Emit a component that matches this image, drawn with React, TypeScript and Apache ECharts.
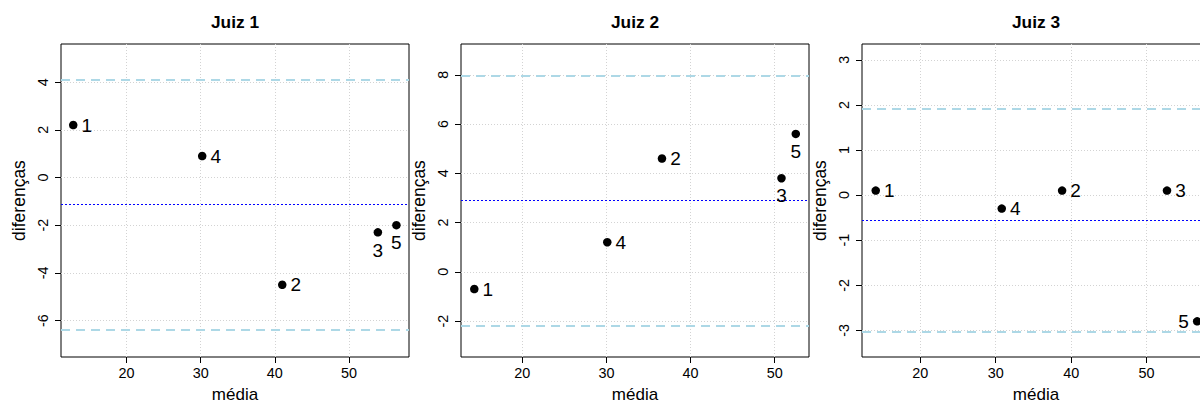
import React, { useEffect, useRef } from 'react';
import * as echarts from 'echarts';

const pointIds = ['1', '2', '3', '4', '5'];

const juiz1Media = [12.8, 41.0, 53.9, 30.2, 56.4];
const juiz1Dif = [2.2, -4.5, -2.3, 0.9, -2.0];
const juiz1LabelPos = ['right', 'right', 'bottom', 'right', 'bottom'];

const juiz2Media = [14.3, 36.6, 50.8, 30.1, 52.5];
const juiz2Dif = [-0.7, 4.6, 3.8, 1.2, 5.6];
const juiz2LabelPos = ['right', 'right', 'bottom', 'right', 'bottom'];

const juiz3Media = [14.1, 38.8, 52.7, 30.8, 56.7];
const juiz3Dif = [0.1, 0.1, 0.1, -0.3, -2.8];
const juiz3LabelPos = ['right', 'right', 'right', 'right', 'left'];

const panelTitles = ['Juiz 1', 'Juiz 2', 'Juiz 3'];
const xTicks = [20, 30, 40, 50];
const yTicks1 = [-6, -4, -2, 0, 2, 4];
const yTicks2 = [-2, 0, 2, 4, 6, 8];
const yTicks3 = [-3, -2, -1, 0, 1, 2, 3];
const xRange1 = [11.15, 58.1];
const xRange2 = [12.72, 54.07];
const xRange3 = [12.28, 58.4];
const yRange1 = [-7.53, 5.6];
const yRange2 = [-3.46, 9.25];
const yRange3 = [-3.59, 3.35];

const xLabel = 'média';
const yLabel = 'diferenças';

const FONT = '"Liberation Sans", Arial, Helvetica, sans-serif';

function meanSd(v: number[]) {
  const m = v.reduce((a, b) => a + b, 0) / v.length;
  const s = Math.sqrt(v.reduce((a, b) => a + (b - m) * (b - m), 0) / (v.length - 1));
  return { m, s };
}

export default function App() {
  const ref = useRef<HTMLDivElement>(null);
  useEffect(() => {
    if (!ref.current) return;
    const chart = echarts.init(ref.current, null, { renderer: 'svg' });
    const panels = [
      { media: juiz1Media, dif: juiz1Dif, pos: juiz1LabelPos, yTicks: yTicks1, xr: xRange1, yr: yRange1 },
      { media: juiz2Media, dif: juiz2Dif, pos: juiz2LabelPos, yTicks: yTicks2, xr: xRange2, yr: yRange2 },
      { media: juiz3Media, dif: juiz3Dif, pos: juiz3LabelPos, yTicks: yTicks3, xr: xRange3, yr: yRange3 },
    ];
    const lefts = [61, 461, 862];
    const gw = 348;
    const top = 44;
    const gh = 313;

    const grid: any[] = [];
    const xAxis: any[] = [];
    const yAxis: any[] = [];
    const series: any[] = [];
    const title: any[] = [];

    panels.forEach((p, i) => {
      grid.push({
        left: lefts[i], top, width: gw, height: gh,
        outerBoundsMode: 'none', containLabel: false,
        show: true, borderColor: '#000', borderWidth: 1, backgroundColor: 'transparent',
      });
      title.push({
        text: panelTitles[i], left: lefts[i] + gw / 2, top: 13, textAlign: 'center', padding: 0,
        textStyle: { fontSize: 17.3, fontWeight: 'bold', color: '#000', fontFamily: FONT },
      });
      xAxis.push({
        gridIndex: i, type: 'value', min: p.xr[0], max: p.xr[1],
        axisLine: { show: false, onZero: false },
        axisTick: { show: true, length: 6, customValues: xTicks, lineStyle: { color: '#000' } },
        axisLabel: { customValues: xTicks, margin: 9, fontSize: 14.4, color: '#000', fontFamily: FONT },
        splitLine: { show: false },
        name: xLabel, nameLocation: 'middle', nameGap: 30,
        nameTextStyle: { fontSize: 17, lineHeight: 14, color: '#000', fontFamily: FONT },
      });
      yAxis.push({
        gridIndex: i, type: 'value', min: p.yr[0], max: p.yr[1],
        axisLine: { show: false, onZero: false },
        axisTick: { show: true, length: 6, customValues: p.yTicks, lineStyle: { color: '#000' } },
        axisLabel: { customValues: p.yTicks, margin: 11, rotate: 90, fontSize: 14.4, color: '#000', fontFamily: FONT },
        splitLine: { show: false },
        name: yLabel, nameLocation: 'middle', nameGap: 33,
        nameTextStyle: { fontSize: 17.5, color: '#000', fontFamily: FONT },
      });
      const { m, s } = meanSd(p.dif);
      series.push({
        type: 'scatter', xAxisIndex: i, yAxisIndex: i, data: [], silent: true, z: 1,
        markLine: {
          silent: true, symbol: ['none', 'none'], z: 1, animation: false,
          label: { show: false },
          lineStyle: { color: '#D3D3D3', type: [1, 2], width: 1 },
          data: [...xTicks.map((v) => ({ xAxis: v })), ...p.yTicks.map((v) => ({ yAxis: v }))],
        },
      });
      series.push({
        type: 'scatter', xAxisIndex: i, yAxisIndex: i, data: [], silent: true, z: 2,
        markLine: {
          silent: true, symbol: ['none', 'none'], z: 2, animation: false,
          label: { show: false },
          data: [
            { yAxis: m, lineStyle: { color: '#0000FF', type: [2, 2], width: 1, opacity: 1 } },
            { yAxis: m + 1.96 * s, lineStyle: { color: '#ADD8E6', type: [9, 6], width: 2, opacity: 1 } },
            { yAxis: m - 1.96 * s, lineStyle: { color: '#ADD8E6', type: [9, 6], width: 2, opacity: 1 } },
          ],
        },
      });
      series.push({
        type: 'scatter', xAxisIndex: i, yAxisIndex: i, z: 3, symbolSize: 8.5,
        itemStyle: { color: '#000', opacity: 1 },
        label: { show: true, formatter: '{b}', fontSize: 19, color: '#000', fontFamily: FONT, distance: 4 },
        data: p.media.map((x, k) => ({ name: pointIds[k], value: [x, p.dif[k]], label: { position: p.pos[k] } })),
      });
    });

    chart.setOption({
      animation: false,
      backgroundColor: '#fff',
      textStyle: { fontFamily: FONT },
      title, grid, xAxis, yAxis, series,
    });
    return () => chart.dispose();
  }, []);
  return (
    <div style={{ position: 'absolute', left: 0, top: 0, width: 1200, height: 405, overflow: 'hidden', background: '#fff' }}>
      <div ref={ref} style={{ width: 1212, height: 405 }} />
    </div>
  );
}
